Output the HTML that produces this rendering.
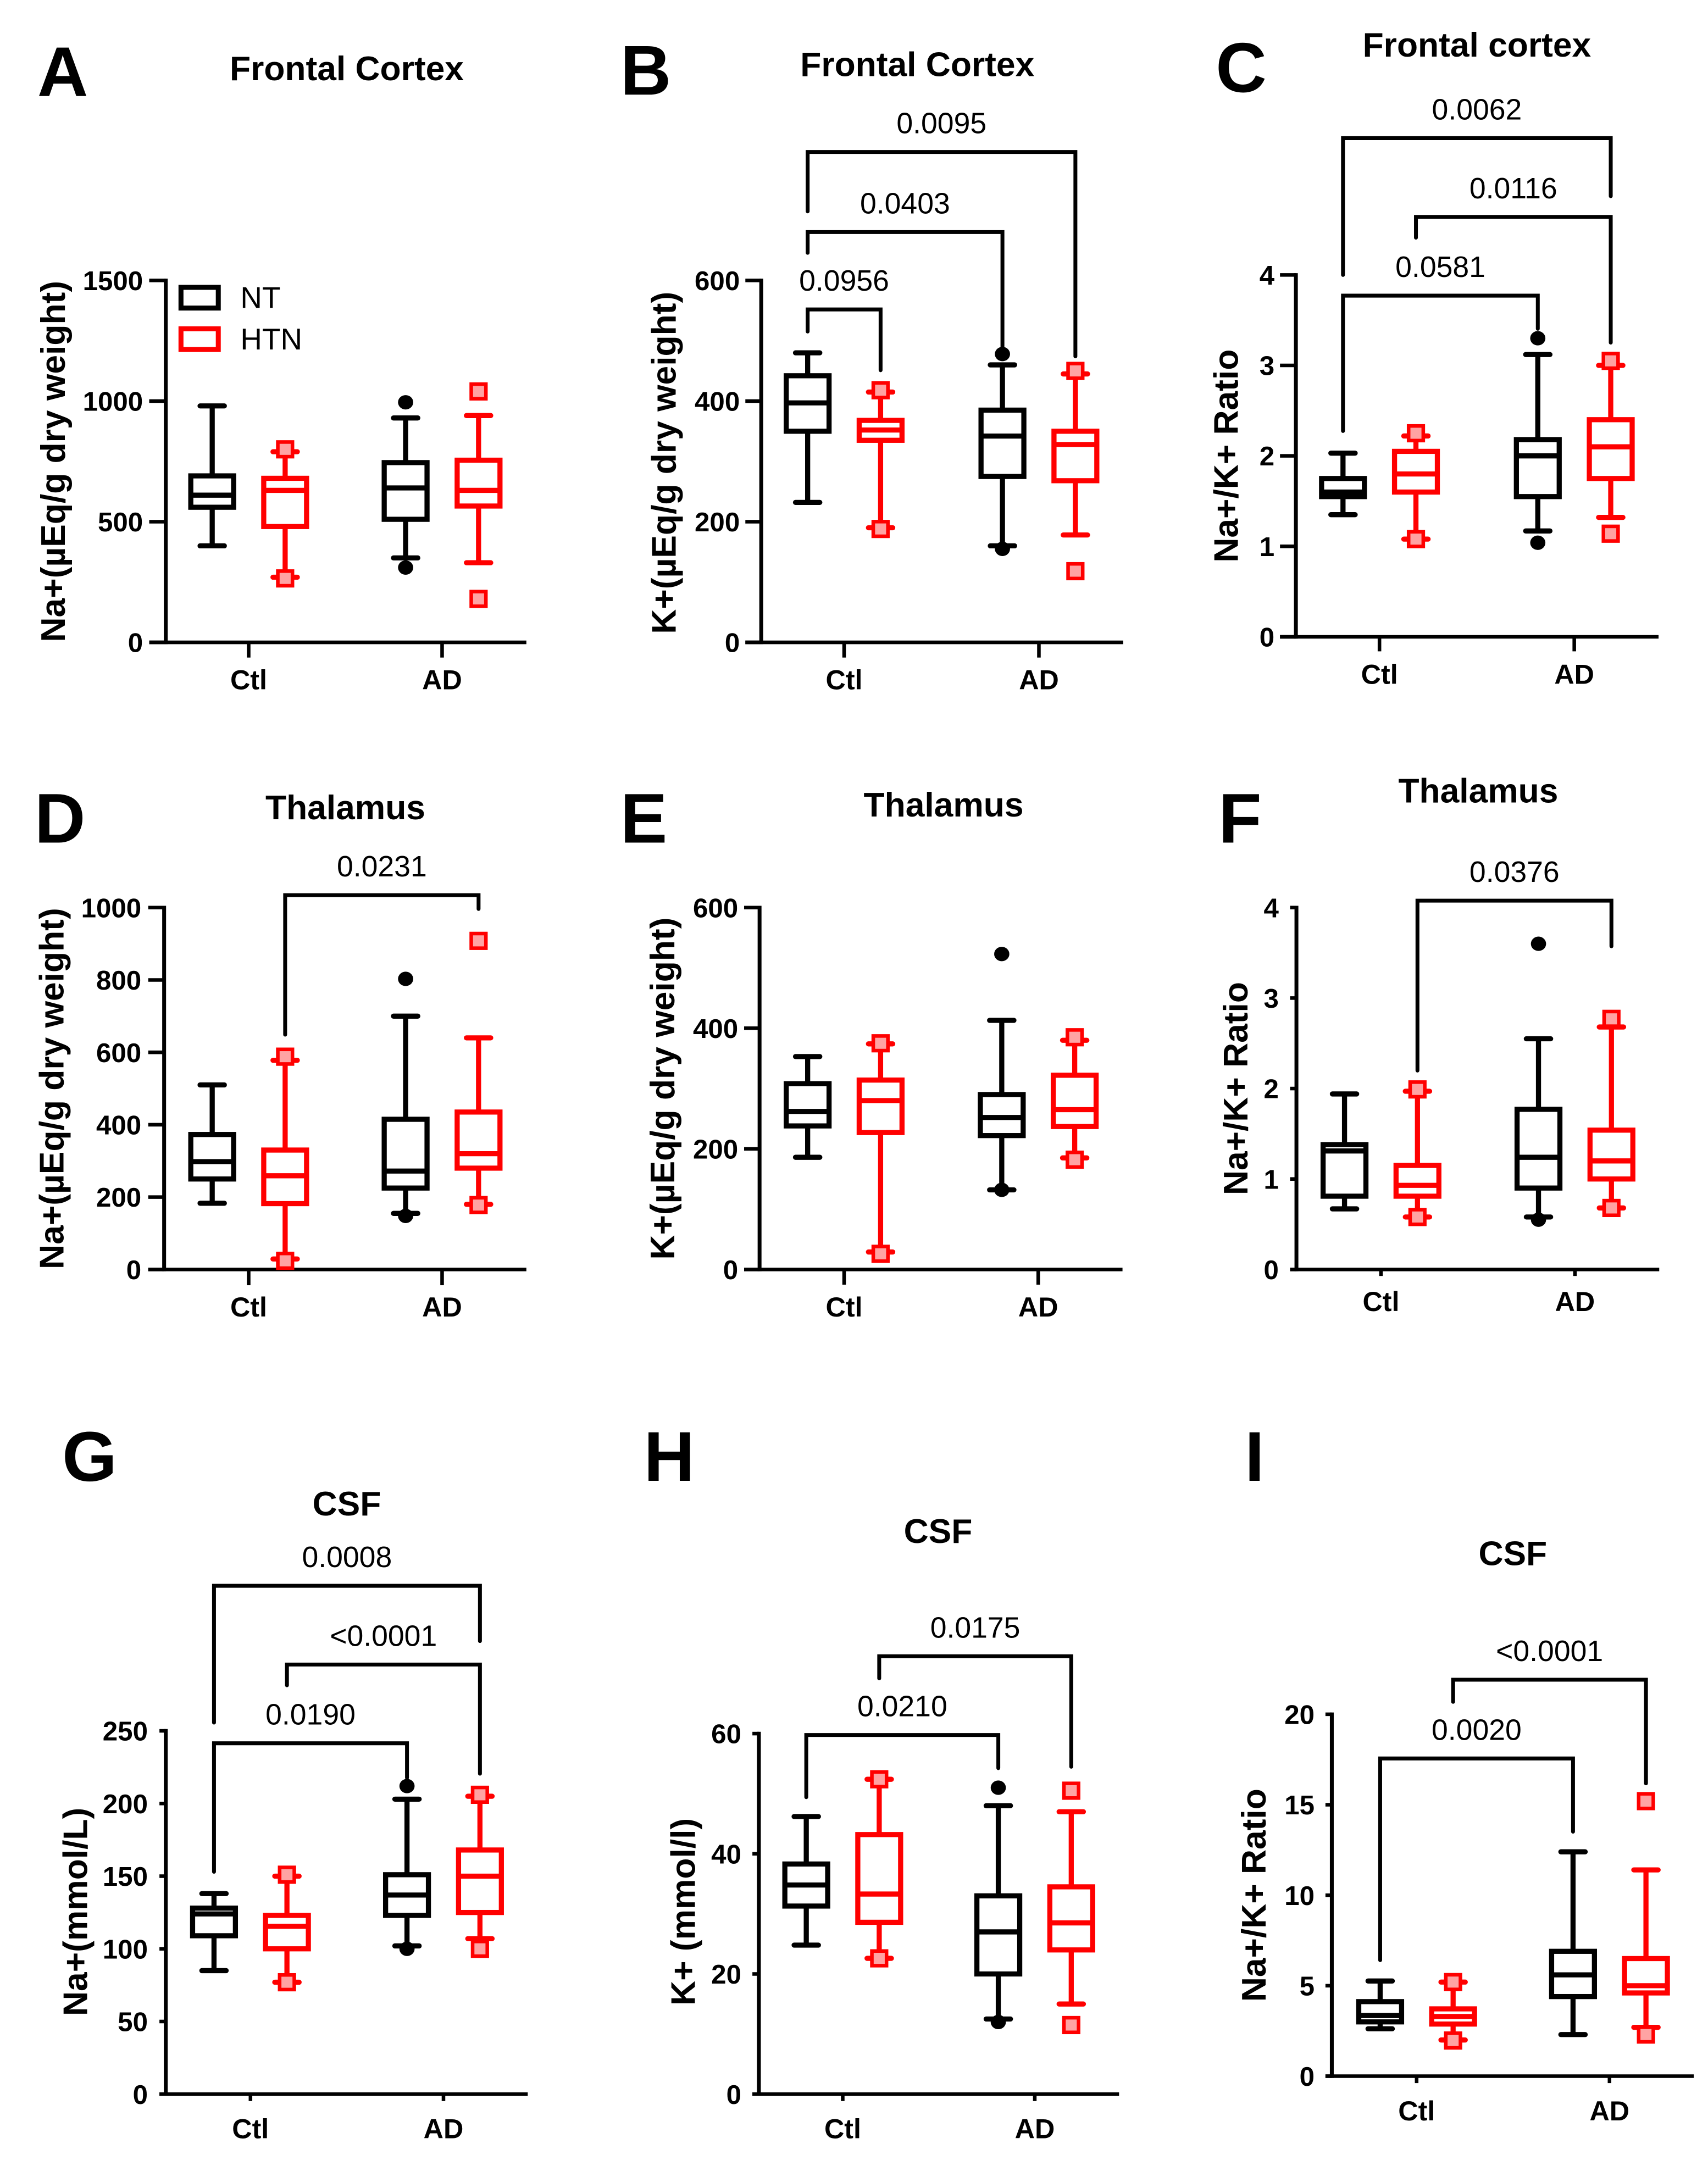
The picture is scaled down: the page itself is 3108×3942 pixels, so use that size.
<!DOCTYPE html>
<html lang="en">
<head>
<meta charset="utf-8">
<title>Na+ and K+ box plots</title>
<style>
html,body{margin:0;padding:0;background:#fff;}
svg{display:block;}
text{font-family:"Liberation Sans",Arial,sans-serif;fill:#000;}
.letter{font-size:51px;font-weight:700;}
.title{font-size:24.8px;font-weight:700;text-anchor:middle;}
.ytitle{font-size:24.8px;font-weight:700;text-anchor:middle;}
.tick{font-size:19.6px;font-weight:700;text-anchor:end;}
.group{font-size:20px;font-weight:700;text-anchor:middle;}
.pval{font-size:21.3px;text-anchor:middle;}
.legend{font-size:21.8px;}
</style>
</head>
<body>
<svg id="figure" xmlns="http://www.w3.org/2000/svg" width="3108" height="3942" viewBox="0 0 1236.3 1568">
<rect x="0" y="0" width="1236.3" height="1568" fill="#fff"/>

<text class="letter" x="27" y="69.5">A</text>
<text class="title" x="251" y="58">Frontal Cortex</text>
<text class="ytitle" transform="translate(47,334) rotate(-90)">Na+(µEq/g dry weight)</text>

<text class="letter" x="449" y="68.5">B</text>
<text class="title" x="664" y="55">Frontal Cortex</text>
<text class="ytitle" transform="translate(489,335) rotate(-90)">K+(µEq/g dry weight)</text>

<text class="letter" x="880" y="66.5">C</text>
<text class="title" x="1069" y="41">Frontal cortex</text>
<text class="ytitle" transform="translate(896,330) rotate(-90)">Na+/K+ Ratio</text>

<text class="letter" x="25" y="610">D</text>
<text class="title" x="250" y="593">Thalamus</text>
<text class="ytitle" transform="translate(46,788) rotate(-90)">Na+(µEq/g dry weight)</text>

<text class="letter" x="449" y="610">E</text>
<text class="title" x="683" y="591">Thalamus</text>
<text class="ytitle" transform="translate(488,788) rotate(-90)">K+(µEq/g dry weight)</text>

<text class="letter" x="882" y="610">F</text>
<text class="title" x="1070" y="581">Thalamus</text>
<text class="ytitle" transform="translate(903,788) rotate(-90)">Na+/K+ Ratio</text>

<text class="letter" x="45" y="1072">G</text>
<text class="title" x="251" y="1097">CSF</text>
<text class="ytitle" transform="translate(63,1384) rotate(-90)">Na+(mmol/L)</text>

<text class="letter" x="466" y="1072">H</text>
<text class="title" x="679" y="1117">CSF</text>
<text class="ytitle" transform="translate(503,1384) rotate(-90)">K+ (mmol/l)</text>

<text class="letter" x="901" y="1072">I</text>
<text class="title" x="1095" y="1133">CSF</text>
<text class="ytitle" transform="translate(916,1372) rotate(-90)">Na+/K+ Ratio</text>

<g>
  <rect x="131" y="208" width="27" height="15" fill="none" stroke="#000" stroke-width="3.6"/>
  <text class="legend" x="174" y="223">NT</text>
  <rect x="131" y="238" width="27" height="15" fill="none" stroke="#f00" stroke-width="3.6"/>
  <text class="legend" x="174" y="253">HTN</text>
</g>
<g id="plots"></g>
</svg>

<script>
// Box order in every array: Ctl-NT, Ctl-HTN, AD-NT, AD-HTN
const categories = ['Ctl', 'AD'];
const seriesNames = ['NT', 'HTN'];

const aTicks = [0, 500, 1000, 1500];
const aWhiskerLow = [400, 270, 350, 330];
const aQ1 = [560, 480, 510, 565];
const aMedian = [610, 630, 640, 630];
const aQ3 = [690, 680, 745, 755];
const aWhiskerHigh = [980, 790, 930, 940];
const aOutlierHigh = [null, 800, 995, 1040];
const aOutlierLow = [null, 265, 310, 180];

const bTicks = [0, 200, 400, 600];
const bWhiskerLow = [232, 190, 160, 178];
const bQ1 = [350, 335, 275, 268];
const bMedian = [397, 352, 342, 328];
const bQ3 = [442, 368, 385, 350];
const bWhiskerHigh = [480, 415, 460, 445];
const bOutlierHigh = [null, 418, 478, 450];
const bOutlierLow = [null, 188, 155, 118];
const bPValues = ['0.0956', '0.0403', '0.0095'];

const cTicks = [0, 1, 2, 3, 4];
const cWhiskerLow = [1.35, 1.08, 1.17, 1.32];
const cQ1 = [1.55, 1.6, 1.55, 1.75];
const cMedian = [1.6, 1.8, 2.0, 2.1];
const cQ3 = [1.75, 2.05, 2.18, 2.4];
const cWhiskerHigh = [2.03, 2.22, 3.12, 3.0];
const cOutlierHigh = [null, 2.25, 3.3, 3.05];
const cOutlierLow = [null, 1.08, 1.04, 1.14];
const cPValues = ['0.0581', '0.0116', '0.0062'];

const dTicks = [0, 200, 400, 600, 800, 1000];
const dWhiskerLow = [183, 29, 155, 180];
const dQ1 = [250, 182, 225, 280];
const dMedian = [298, 259, 272, 320];
const dQ3 = [373, 330, 415, 435];
const dWhiskerHigh = [510, 578, 700, 640];
const dOutlierHigh = [null, 588, 803, 908];
const dOutlierLow = [null, 24, 148, 178];
const dPValues = ['0.0231'];

const eTicks = [0, 200, 400, 600];
const eWhiskerLow = [186, 29, 132, 185];
const eQ1 = [238, 227, 222, 237];
const eMedian = [262, 280, 252, 265];
const eQ3 = [308, 314, 290, 322];
const eWhiskerHigh = [353, 374, 413, 380];
const eOutlierHigh = [null, 375, 523, 385];
const eOutlierLow = [null, 26, 132, 182];

const fTicks = [0, 1, 2, 3, 4];
const fWhiskerLow = [0.67, 0.58, 0.58, 0.68];
const fQ1 = [0.81, 0.81, 0.9, 1.0];
const fMedian = [1.31, 0.93, 1.24, 1.2];
const fQ3 = [1.38, 1.15, 1.77, 1.54];
const fWhiskerHigh = [1.94, 1.97, 2.55, 2.68];
const fOutlierHigh = [null, 1.99, 3.6, 2.77];
const fOutlierLow = [null, 0.58, 0.55, 0.68];
const fPValues = ['0.0376'];

const gTicks = [0, 50, 100, 150, 200, 250];
const gWhiskerLow = [85, 77, 102, 107];
const gQ1 = [109, 100, 123, 125];
const gMedian = [124, 115.5, 137, 150];
const gQ3 = [128, 123, 151, 168];
const gWhiskerHigh = [138, 150, 203, 205];
const gOutlierHigh = [null, 151, 212, 206];
const gOutlierLow = [null, 77, 100, 100];
const gPValues = ['0.0190', '<0.0001', '0.0008'];

const hTicks = [0, 20, 40, 60];
const hWhiskerLow = [24.8, 22.6, 12.5, 15];
const hQ1 = [31.3, 28.6, 20, 24];
const hMedian = [34.8, 33.3, 27, 28.5];
const hQ3 = [38.3, 43.2, 33, 34.5];
const hWhiskerHigh = [46.2, 52.4, 48, 47];
const hOutlierHigh = [null, 52.4, 51, 50.5];
const hOutlierLow = [null, 22.6, 12, 11.5];
const hPValues = ['0.0210', '0.0175'];

const iTicks = [0, 5, 10, 15, 20];
const iWhiskerLow = [2.62, 2.0, 2.3, 2.7];
const iQ1 = [3.0, 2.88, 4.4, 4.6];
const iMedian = [3.35, 3.3, 5.6, 5.0];
const iQ3 = [4.12, 3.72, 6.9, 6.5];
const iWhiskerHigh = [5.26, 5.2, 12.4, 11.4];
const iOutlierHigh = [null, 5.2, null, 15.2];
const iOutlierLow = [null, 1.97, null, 2.3];
const iPValues = ['0.0020', '<0.0001'];

// Layout: axis geometry and bracket placement, independent of the data
// yt = y tick length, xt = x tick length, lg = label gap from axis, gd = group label baseline offset
const panels = [
  {id:'a', x0:120, yt:12, xt:11, lg:16.5, gd:34, ctl:180, ad:320, base:465, top:203, ticks:aTicks, low:aWhiskerLow, q1:aQ1, med:aMedian, q3:aQ3, high:aWhiskerHigh, outHigh:aOutlierHigh, outLow:aOutlierLow, pvals:[], br:[]},
  {id:'b', x0:551, yt:11.5, xt:11, lg:15.5, gd:34, ctl:611, ad:752, base:465, top:203, ticks:bTicks, low:bWhiskerLow, q1:bQ1, med:bMedian, q3:bQ3, high:bWhiskerHigh, outHigh:bOutlierHigh, outLow:bOutlierLow, pvals:bPValues,
   br:[[0,1,224,240,268],[0,2,168,183,251],[0,3,110,153,258]]},
  {id:'c', x0:938, yt:11.5, xt:10.5, lg:15.5, gd:34, ctl:998.5, ad:1139.5, base:461, top:199, ticks:cTicks, low:cWhiskerLow, q1:cQ1, med:cMedian, q3:cQ3, high:cWhiskerHigh, outHigh:cOutlierHigh, outLow:cOutlierLow, pvals:cPValues,
   br:[[0,2,214,312,238],[1,3,157,172,248],[0,3,100,199,142]]},
  {id:'d', x0:118.8, yt:11.5, xt:11.4, lg:16.5, gd:34, ctl:180, ad:320, base:919, top:657, ticks:dTicks, low:dWhiskerLow, q1:dQ1, med:dMedian, q3:dQ3, high:dWhiskerHigh, outHigh:dOutlierHigh, outLow:dOutlierLow, pvals:dPValues,
   br:[[1,3,648,749,658]]},
  {id:'e', x0:549.8, yt:11.2, xt:11, lg:15.5, gd:34, ctl:611, ad:751.5, base:919, top:657, ticks:eTicks, low:eWhiskerLow, q1:eQ1, med:eMedian, q3:eQ3, high:eWhiskerHigh, outHigh:eOutlierHigh, outLow:eOutlierLow, pvals:[], br:[]},
  {id:'f', x0:938.4, yt:4.6, xt:4.7, lg:12.8, gd:30, ctl:999.6, ad:1140, base:919, top:657, ticks:fTicks, low:fWhiskerLow, q1:fQ1, med:fMedian, q3:fQ3, high:fWhiskerHigh, outHigh:fOutlierHigh, outLow:fOutlierLow, pvals:fPValues,
   br:[[1,3,652,775,685]]},
  {id:'g', x0:120, yt:4.6, xt:5, lg:13, gd:32, ctl:181.3, ad:321, base:1516, top:1253, ticks:gTicks, low:gWhiskerLow, q1:gQ1, med:gMedian, q3:gQ3, high:gWhiskerHigh, outHigh:gOutlierHigh, outLow:gOutlierLow, pvals:gPValues,
   br:[[0,2,1262,1355,1287],[1,3,1205,1220,1284],[0,3,1148,1247,1188]]},
  {id:'h', x0:549.3, yt:4.7, xt:5, lg:12.7, gd:32, ctl:610, ad:749, base:1516, top:1255, ticks:hTicks, low:hWhiskerLow, q1:hQ1, med:hMedian, q3:hQ3, high:hWhiskerHigh, outHigh:hOutlierHigh, outLow:hOutlierLow, pvals:hPValues,
   br:[[0,2,1256,1301,1280],[1,3,1199,1215,1279]]},
  {id:'i', x0:964, yt:4.6, xt:5, lg:12.5, gd:32, ctl:1025.4, ad:1165, base:1503, top:1241, ticks:iTicks, low:iWhiskerLow, q1:iQ1, med:iMedian, q3:iQ3, high:iWhiskerHigh, outHigh:iOutlierHigh, outLow:iOutlierLow, pvals:iPValues,
   br:[[0,2,1273,1419,1326],[1,3,1216,1232,1291]]}
];

const SVGNS = 'http://www.w3.org/2000/svg';
const root = document.getElementById('plots');
const BLACK = '#000', RED = '#f00';

function make(parent, tag, name, attrs, text) {
  const el = document.createElementNS(SVGNS, tag);
  
  
  for (const k in attrs) el.setAttribute(k, attrs[k]);
  if (text !== undefined) el.textContent = text;
  parent.appendChild(el);
  return el;
}
function line(parent, name, x1, y1, x2, y2, stroke, w, cap) {
  return make(parent, 'line', name, {x1, y1, x2, y2, stroke, 'stroke-width': w, 'stroke-linecap': cap || 'butt'});
}

function drawPanel(p) {
  const g = make(root, 'g', 'panel-' + p.id, {});
  const yMax = p.ticks[p.ticks.length - 1];
  const yScale = v => p.base - (v / yMax) * (p.base - p.top);
  const groupX = i => i === 0 ? p.ctl : p.ad;
  const boxX = b => groupX(Math.floor(b / 2)) + (b % 2 === 0 ? -26.4 : 26.4);
  const SW = 3.7;

  // axes
  const axes = make(g, 'g', 'panel-' + p.id + '-axes', {});
  line(axes, 'y-axis-line', p.x0, p.top - 1.3, p.x0, p.base + 1.3, BLACK, 2.8);
  line(axes, 'x-axis-line', p.x0 - p.yt, p.base, p.ad + 61, p.base, BLACK, 2.6);
  p.ticks.forEach(t => {
    line(axes, 'y-tick', p.x0 - p.yt, yScale(t), p.x0, yScale(t), BLACK, 2.6);
    make(axes, 'text', 'y-tick-label', {class: 'tick', x: p.x0 - p.lg, y: yScale(t) + 7}, String(t));
  });
  categories.forEach((c, i) => {
    line(axes, 'x-tick', groupX(i), p.base, groupX(i), p.base + p.xt, BLACK, 2.6);
    make(axes, 'text', 'x-tick-label', {class: 'group', x: groupX(i), y: p.base + p.gd}, c);
  });

  // boxes
  p.med.forEach((m, b) => {
    const col = b % 2 === 0 ? BLACK : RED;
    const x = boxX(b);
    const s = seriesNames[b % 2].toLowerCase() + '-' + categories[Math.floor(b / 2)].toLowerCase();
    const bx = make(g, 'g', 'box-' + s, {});
    line(bx, 'whisker-upper', x, yScale(p.q3[b]), x, yScale(p.high[b]), col, SW);
    line(bx, 'whisker-lower', x, yScale(p.q1[b]), x, yScale(p.low[b]), col, SW);
    line(bx, 'whisker-cap-upper', x - 8.8, yScale(p.high[b]), x + 8.8, yScale(p.high[b]), col, SW, 'round');
    line(bx, 'whisker-cap-lower', x - 8.8, yScale(p.low[b]), x + 8.8, yScale(p.low[b]), col, SW, 'round');
    make(bx, 'rect', 'interquartile-box', {x: x - 15.5, y: yScale(p.q3[b]), width: 31, height: yScale(p.q1[b]) - yScale(p.q3[b]), fill: '#fff', stroke: col, 'stroke-width': SW});
    line(bx, 'median-line', x - 15.5, yScale(m), x + 15.5, yScale(m), col, SW);
    [p.outHigh[b], p.outLow[b]].forEach(o => {
      if (o === null) return;
      if (b % 2 === 0) {
        make(bx, 'ellipse', 'outlier-dot', {cx: x, cy: yScale(o), rx: 5.5, ry: 5.2, fill: BLACK});
      } else {
        make(bx, 'rect', 'outlier-square', {x: x - 5.3, y: yScale(o) - 5.3, width: 10.6, height: 10.6, fill: '#ffa3a3', stroke: RED, 'stroke-width': 2.6});
      }
    });
  });

  // significance brackets: [fromBox, toBox, topY, leftBottomY, rightBottomY]
  p.br.forEach((br, k) => {
    const xa = boxX(br[0]), xb = boxX(br[1]);
    const grp = make(g, 'g', 'significance-bracket', {});
    make(grp, 'polyline', 'bracket-line', {points: xa + ',' + br[3] + ' ' + xa + ',' + br[2] + ' ' + xb + ',' + br[2] + ' ' + xb + ',' + br[4], fill: 'none', stroke: BLACK, 'stroke-width': 2.8, 'stroke-linecap': 'round'});
    make(grp, 'text', 'p-value-label', {class: 'pval', x: (xa + xb) / 2, y: br[2] - 13.5}, p.pvals[k]);
  });
}
panels.forEach(drawPanel);
</script>
</body>
</html>
